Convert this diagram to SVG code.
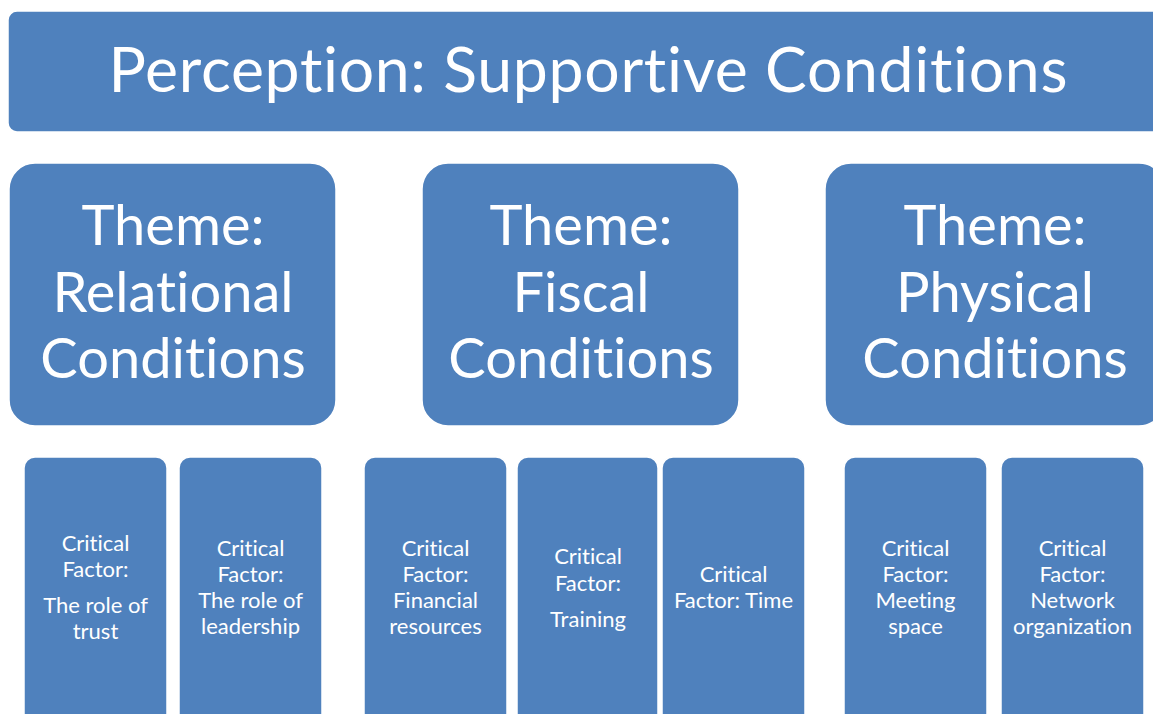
<svg xmlns="http://www.w3.org/2000/svg" width="1153" height="714" viewBox="0 0 1153 714">
<style>
.box{fill:#4F81BD;stroke:#FFFFFF;stroke-width:1.5}
text{fill:#FFFFFF;font-family:Lato,"Open Sans",sans-serif;text-anchor:middle;font-variant-ligatures:none}
.title{font-size:62.5px}
.theme{font-size:56px}
.cf{font-size:22px}
</style>
<rect width="1153" height="714" fill="#FFFFFF"/>
<g id="title">
<rect class="box" x="8" y="11" width="1160" height="121" rx="9"/>
<text class="title" x="588" y="92" textLength="959" lengthAdjust="spacing">Perception: Supportive Conditions</text>
</g>
<g id="theme-relational">
<rect class="box" x="9" y="163" width="327" height="263" rx="26"/>
<text class="theme" x="173" y="245">Theme:</text>
<text class="theme" x="173" y="312">Relational</text>
<text class="theme" x="173" y="378">Conditions</text>
</g>
<g id="theme-fiscal">
<rect class="box" x="422" y="163" width="317" height="263" rx="26"/>
<text class="theme" x="581" y="245">Theme:</text>
<text class="theme" x="581" y="312">Fiscal</text>
<text class="theme" x="581" y="378">Conditions</text>
</g>
<g id="theme-physical">
<rect class="box" x="825" y="163" width="340" height="263" rx="26"/>
<text class="theme" x="995" y="245">Theme:</text>
<text class="theme" x="995" y="312">Physical</text>
<text class="theme" x="995" y="378">Conditions</text>
</g>
<g id="cf-trust">
<rect class="box" x="24" y="457" width="143" height="280" rx="11"/>
<text class="cf" x="95.5" y="551">Critical</text>
<text class="cf" x="95.5" y="577">Factor:</text>
<text class="cf" x="95.5" y="613">The role of</text>
<text class="cf" x="95.5" y="639">trust</text>
</g>
<g id="cf-leadership">
<rect class="box" x="179" y="457" width="143" height="280" rx="11"/>
<text class="cf" x="250.5" y="556">Critical</text>
<text class="cf" x="250.5" y="582">Factor:</text>
<text class="cf" x="250.5" y="608">The role of</text>
<text class="cf" x="250.5" y="634">leadership</text>
</g>
<g id="cf-financial">
<rect class="box" x="364" y="457" width="143" height="280" rx="11"/>
<text class="cf" x="435.5" y="556">Critical</text>
<text class="cf" x="435.5" y="582">Factor:</text>
<text class="cf" x="435.5" y="608">Financial</text>
<text class="cf" x="435.5" y="634">resources</text>
</g>
<g id="cf-training">
<rect class="box" x="517" y="457" width="141" height="280" rx="11"/>
<text class="cf" x="588" y="564">Critical</text>
<text class="cf" x="588" y="591">Factor:</text>
<text class="cf" x="588" y="627">Training</text>
</g>
<g id="cf-time">
<rect class="box" x="662" y="457" width="143" height="280" rx="11"/>
<text class="cf" x="733.5" y="582">Critical</text>
<text class="cf" x="733.5" y="608">Factor: Time</text>
</g>
<g id="cf-meeting">
<rect class="box" x="844" y="457" width="143" height="280" rx="11"/>
<text class="cf" x="915.5" y="556">Critical</text>
<text class="cf" x="915.5" y="582">Factor:</text>
<text class="cf" x="915.5" y="608">Meeting</text>
<text class="cf" x="915.5" y="634">space</text>
</g>
<g id="cf-network">
<rect class="box" x="1001" y="457" width="143" height="280" rx="11"/>
<text class="cf" x="1072.5" y="556">Critical</text>
<text class="cf" x="1072.5" y="582">Factor:</text>
<text class="cf" x="1072.5" y="608">Network</text>
<text class="cf" x="1072.5" y="634">organization</text>
</g>
<g id="connectors"/>
</svg>
